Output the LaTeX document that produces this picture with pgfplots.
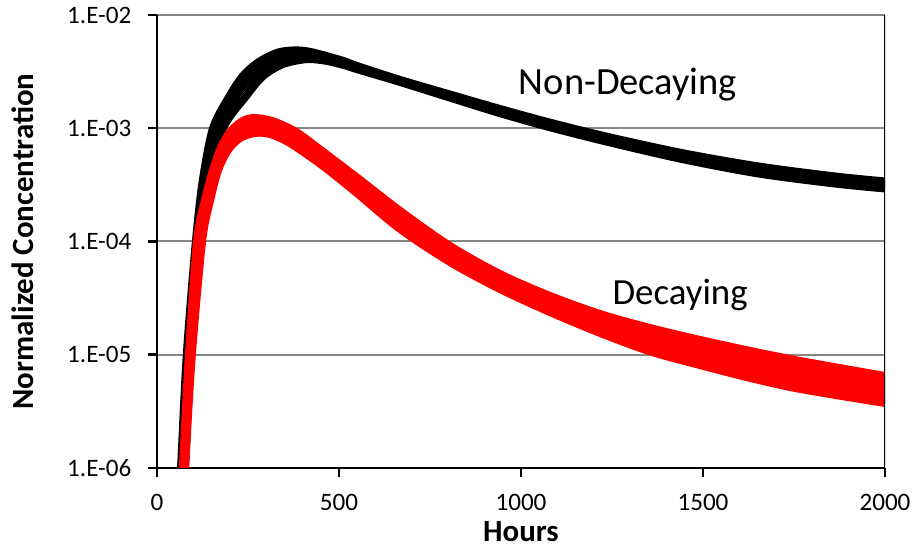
\documentclass[border=0pt]{standalone}
\usepackage{fontspec}
\setmainfont{Carlito}
\usepackage{pgfplots}
\pgfplotsset{compat=1.18}
\usepgfplotslibrary{fillbetween}

\definecolor{gridgray}{RGB}{134,134,134}

\begin{document}
\begin{tikzpicture}
\begin{axis}[
  at={(0,0)}, anchor=south west,
  scale only axis,
  width=364bp, height=226.5bp,
  xmin=0, xmax=2000,
  ymode=log, ymin=1e-6, ymax=1e-2,
  axis lines=left,
  axis line style={-, black, line width=1.25bp},
  tick align=outside,
  major tick length=4.5bp,
  tick style={black, line width=1.25bp},
  yminorticks=false,
  xtick={0,500,1000,1500,2000},
  xticklabels={0,500,1000,1500,2000},
  ytick={1e-6,1e-5,1e-4,1e-3,1e-2},
  yticklabels={1.E-06,1.E-05,1.E-04,1.E-03,1.E-02},
  ticklabel style={font=\fontsize{12.6}{15}\selectfont},
  yticklabel style={xshift=-4.8bp},
  xticklabel style={yshift=-5.3bp},
  ymajorgrids=true,
  major grid style={gridgray, line width=1bp},
  xlabel={\bfseries Hours},
  ylabel={\bfseries Normalized Concentration},
  label style={font=\fontsize{15.5}{18}\selectfont},
  xlabel style={at={(axis description cs:0.5,-0.141)}, anchor=center},
  ylabel style={at={(axis description cs:-0.184,0.5)}, anchor=center},
]
% non-decaying (black band)
\addplot[black, line width=4bp, smooth] coordinates {
 (50,1e-7) (66,1.0e-6) (82,1.02e-5) (107,1.01e-4) (126,3.49e-4) (154,1.0e-3)
 (198,1.89e-3) (236,2.89e-3) (280,3.85e-3) (338,4.71e-3) (407,4.81e-3)
 (503,4.01e-3) (549,3.55e-3) (668,2.67e-3) (813,1.95e-3) (942,1.48e-3)
 (1080,1.12e-3) (1234,8.45e-4) (1442,6.04e-4) (1654,4.59e-4) (1863,3.75e-4) (2000,3.39e-4)};
\addplot[black, line width=4bp, smooth] coordinates {
 (55,1e-7) (71,1.0e-6) (88,1.02e-5) (113,1.0e-4) (134,3.49e-4) (168,1.0e-3)
 (217,1.93e-3) (264,2.89e-3) (316,3.77e-3) (379,4.35e-3) (448,4.26e-3)
 (516,3.72e-3) (668,2.61e-3) (813,1.89e-3) (942,1.42e-3) (1080,1.07e-3)
 (1234,8.04e-4) (1442,5.69e-4) (1654,4.28e-4) (1863,3.49e-4) (2000,3.15e-4)};
\addplot[black, line width=4bp, smooth] coordinates {
 (61,1e-7) (77,1.0e-6) (93,1.02e-5) (121,1.01e-4) (143,3.49e-4) (181,1.0e-3)
 (245,1.93e-3) (291,2.89e-3) (346,3.69e-3) (412,4.08e-3) (467,3.93e-3)
 (522,3.55e-3) (549,3.33e-3) (668,2.56e-3) (813,1.83e-3) (942,1.36e-3)
 (1080,1.02e-3) (1234,7.64e-4) (1442,5.35e-4) (1654,3.98e-4) (1863,3.25e-4) (2000,2.94e-4)};
% decaying (red band)
\addplot[red, line width=4bp, smooth, name path=rtop] coordinates {
 (54,1e-7) (71,1.0e-6) (88,1.02e-5) (110,1.01e-4) (132,2.32e-4) (154,4.28e-4)
 (179,7.11e-4) (206,9.66e-4) (236,1.16e-3) (266,1.23e-3) (316,1.16e-3)
 (382,9.27e-4) (453,6.30e-4) (547,3.72e-4) (668,1.86e-4) (805,9.12e-5)
 (942,5.16e-5) (1080,3.30e-5) (1217,2.29e-5) (1355,1.72e-5) (1492,1.35e-5)
 (1630,1.08e-5) (1767,8.81e-6) (2000,6.49e-6)};
\addplot[red, line width=4bp, smooth, name path=rbot] coordinates {
 (60,1e-7) (77,1.0e-6) (96,1.02e-5) (124,1.01e-4) (146,2.32e-4) (168,4.28e-4)
 (195,6.43e-4) (228,8.20e-4) (269,9.08e-4) (310,8.90e-4) (365,7.41e-4)
 (456,4.65e-4) (549,2.68e-4) (668,1.29e-4) (805,6.59e-5) (942,3.81e-5)
 (1080,2.38e-5) (1217,1.56e-5) (1355,1.07e-5) (1492,8.11e-6)
 (1630,6.24e-6) (1767,4.99e-6) (2000,3.75e-6)};
\addplot[fill=red, draw=none] fill between[of=rtop and rbot];
\draw[black, line width=1.25bp] (rel axis cs:1,0) -- (rel axis cs:1,1);
\node[anchor=base, font=\fontsize{19.3}{23}\selectfont] at (axis cs:1294,1.97e-3) {Non-Decaying};
\node[anchor=base, font=\fontsize{18.5}{22}\selectfont] at (axis cs:1437,2.75e-5) {Decaying};
\end{axis}
\pgfresetboundingbox
\path[use as bounding box] (-78.5bp,-39.5bp) rectangle (379bp,234bp);
\end{tikzpicture}
\end{document}
